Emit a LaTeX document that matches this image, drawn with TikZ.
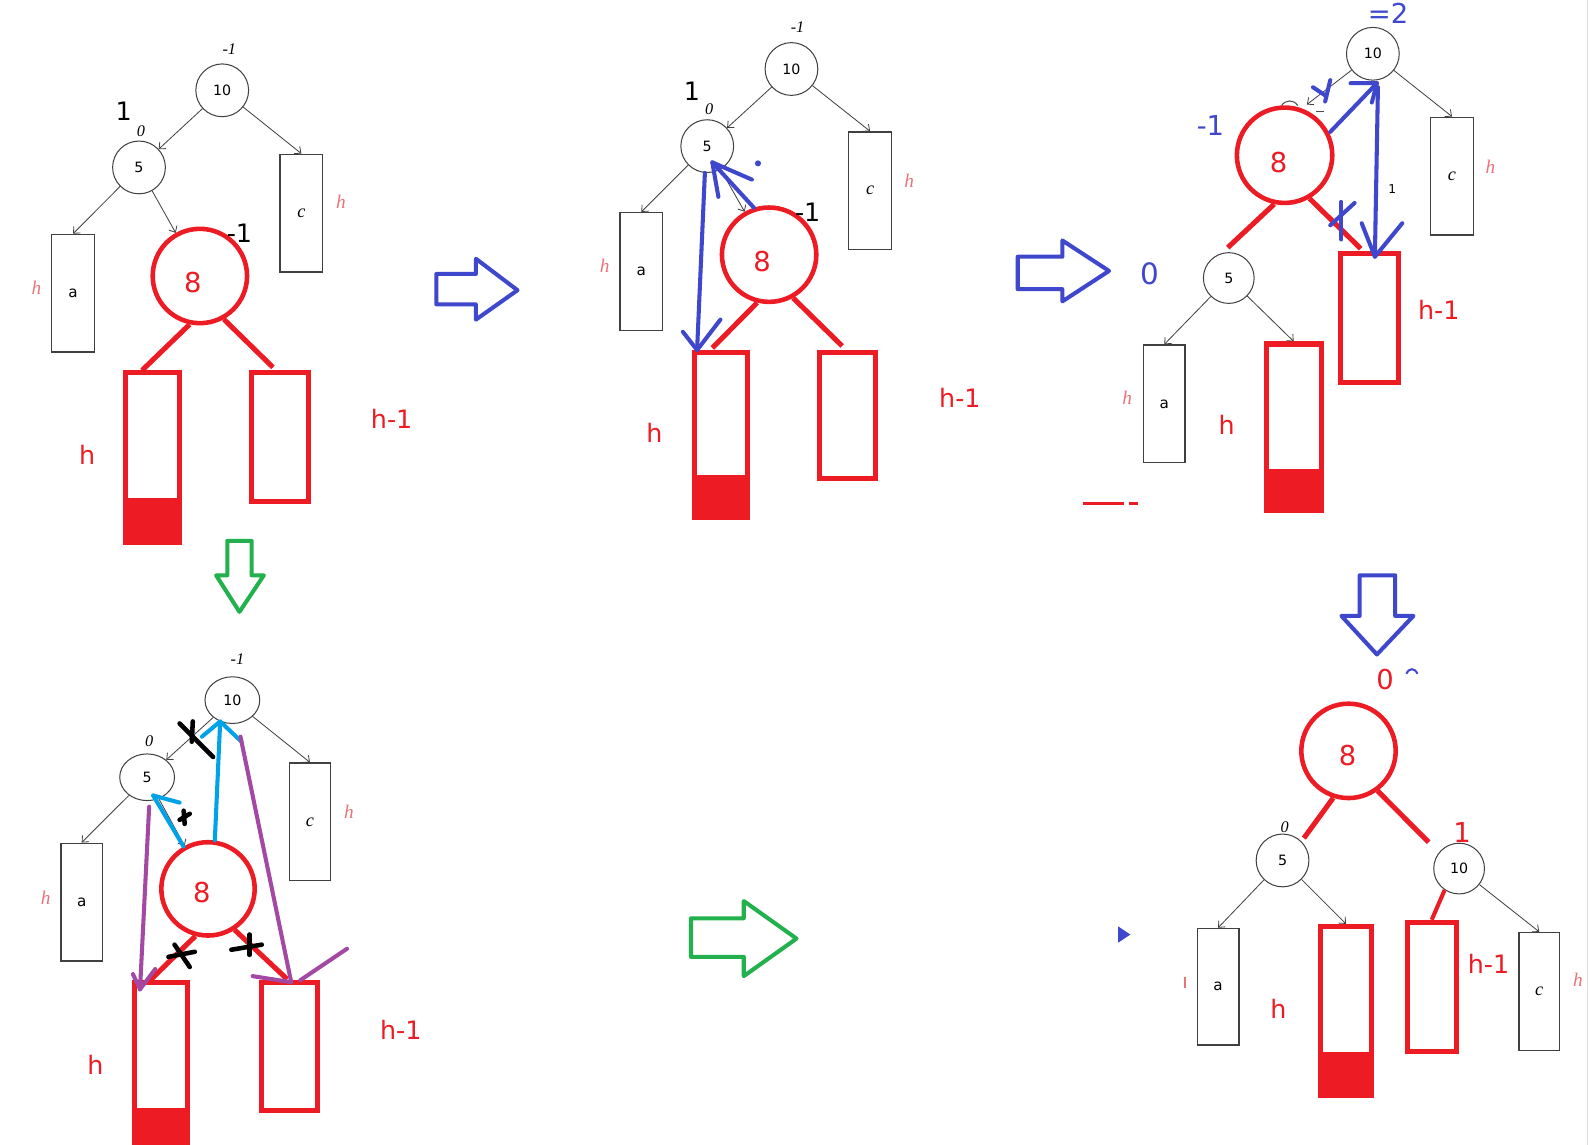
\documentclass[tikz,border=0pt]{standalone}
\usepackage{fontspec}
\setmainfont{DejaVu Sans}
\newfontfamily\serifit{Liberation Serif}
\usetikzlibrary{arrows.meta,shapes.geometric}
\definecolor{pred}{HTML}{ED1C24}
\definecolor{pblue}{HTML}{3F48CC}
\definecolor{pgreen}{HTML}{22B14C}
\definecolor{pcyan}{HTML}{00A2E8}
\definecolor{ppurple}{HTML}{A349A4}
\definecolor{ppink}{HTML}{E8747A}
\newcommand{\fsz}[1]{\fontsize{#1}{#1}\selectfont}
\begin{document}
\begin{tikzpicture}[x=1pt,y=-1pt,
 tnode/.style={circle,draw=black!75,line width=1pt,minimum size=52pt,inner sep=0pt,font=\fsz{14}},
 tell/.style={ellipse,draw=black!75,line width=1pt,minimum width=54pt,minimum height=46pt,inner sep=0pt,font=\fsz{14}},
 rnode/.style={circle,draw=pred,line width=4.5pt,minimum size=93pt,inner sep=0pt},
 eight/.style={text=pred,font=\fsz{27},inner sep=0pt},
 tbox/.style={rectangle,draw=black!75,line width=1.3pt,minimum width=42pt,minimum height=116pt,inner sep=0pt,font=\fsz{15}},
 rbox/.style={rectangle,draw=pred,line width=5pt,inner sep=0pt},
 tedge/.style={draw=black!75,line width=0.8pt,-{Straight Barb[length=5pt,width=9pt]}},
 redline/.style={draw=pred,line width=5pt},
 bstroke/.style={draw=pblue,line width=4pt,line cap=round,line join=round},
 cstroke/.style={draw=pcyan,line width=4pt,line cap=round,line join=round},
 pstroke/.style={draw=ppurple,line width=4pt,line cap=round,line join=round},
 xstroke/.style={draw=black,line width=4.5pt,line cap=round},
 hollow/.style={line width=4pt,line join=round,fill=white},
 bal/.style={font=\serifit\itshape\fsz{16}},
 hpink/.style={text=ppink,font=\serifit\itshape\fsz{19}},
 rlab/.style={text=pred,font=\fsz{25}},
 blab/.style={text=pblue,font=\fsz{27}},
 big/.style={font=\fsz{25}},
]
\useasboundingbox (0,0) rectangle (1568,1128);
\fill[white] (0,0) rectangle (1568,1128);
\draw[black!15,line width=1pt] (1565,0) -- (1565,1128);

% ================= Panel A (top left) =================
\node[tnode] (A10) at (219,89) {10};
\node[tnode] (A5) at (137,165) {5};
\node[tbox] (Ac) at (297,210) {\serifit\itshape\fsz{18}c};
\node[tbox] (Aa) at (72,289) {a};
\node[rbox,minimum width=53pt,minimum height=168pt] (AL) at (150.5,451) {};
\fill[pred] (121.5,491) rectangle (179.5,537.5);
\node[rbox,minimum width=56pt,minimum height=127pt] (AR) at (276,430.5) {};
\node[rnode] (A8) at (197,272) {};
\node[eight] (A8t) at (190,278) {8};
\draw[tedge] (A10) -- (A5);
\draw[tedge] (A10) -- (Ac.north);
\draw[tedge] (A5) -- (Aa.north);
\draw[tedge] (A5) -- (A8);
\coordinate (A8l) at (140,365);
\coordinate (A8r) at (269,362);
\draw[redline] (A8.258) -- (A8l);
\draw[redline] (A8.299) -- (A8r);
\node[bal] (Ab10) at (226,48) {-1};
\node[big] (Ab1) at (122,110) {1};
\node[bal] (Ab5) at (139,129) {0};
\node[hpink] (Ahc) at (336,199) {h};
\node[hpink] (Aha) at (36,284) {h};
\node[big] (Ab8) at (236,230) {-1};
\node[rlab] (Ahr) at (386,413) {h-1};
\node[rlab] (Ahl) at (86,448) {h};
% hollow arrow 1
\draw[pblue,hollow] (430,270) -- (469,270) -- (469,255) -- (510,286) -- (469,315) -- (469,300) -- (430,300) -- cycle;

% ================= Panel B (top middle) =================
\node[tnode] (B10) at (780,68) {10};
\node[tnode] (B5) at (697,144) {5};
\node[tbox] (Bc) at (857.5,188) {\serifit\itshape\fsz{18}c};
\node[tbox] (Ba) at (632,267.5) {a};
\node[rbox,minimum width=53pt,minimum height=163pt] (BL) at (710.5,428.5) {};
\fill[pred] (681.5,468) rectangle (739.5,512.5);
\node[rbox,minimum width=55pt,minimum height=125pt] (BR) at (835.5,409.5) {};
\node[rnode] (B8) at (758,251) {};
\node[eight] (B8t) at (751,258) {8};
\draw[tedge] (B10) -- (B5);
\draw[tedge] (B10) -- (Bc.north);
\draw[tedge] (B5) -- (Ba.north);
\draw[tedge] (B5) -- (B8);
\coordinate (B8l) at (702,343);
\coordinate (B8r) at (830,341);
\draw[redline] (B8.256) -- (B8l);
\draw[redline] (B8.299) -- (B8r);
\node[bal] (Bb10) at (786,27) {-1};
\node[big] (Bb1) at (682,90) {1};
\node[bal] (Bb5) at (699,108) {0};
\node[hpink] (Bhc) at (896,178) {h};
\node[hpink] (Bha) at (596,262) {h};
\node[big] (Bb8) at (796,209) {-1};
\node[rlab] (Bhr) at (946,392) {h-1};
\node[rlab] (Bhl) at (645,427) {h};
% blue rotation marks
\coordinate (Bt1) at (702,160);
\coordinate (Bt2) at (687,345);
\draw[bstroke] (B8.108) -- (Bt1);
\draw[bstroke] (708,194) -- (Bt1) -- (741,177);
\fill[pblue] (747,161) circle (3);
\draw[bstroke] (B5.265) -- (Bt2);
\draw[bstroke] (673,327) -- (Bt2) -- (710,315);

% ================= Panel C (top right) =================
\node[tnode] (C10) at (1353,53) {10};
\node[tbox] (Cc) at (1431,173.5) {\serifit\itshape\fsz{18}c};
\node[tnode,minimum size=50pt] (C5) at (1211,274) {5};
\node[tbox,minimum width=41pt] (Ca) at (1147.5,398) {a};
\node[rbox,minimum width=54pt,minimum height=164pt] (CL) at (1275,421) {};
\fill[pred] (1245.5,462) rectangle (1304.5,505.5);
\node[rbox,minimum width=57pt,minimum height=127pt] (CR) at (1349.5,313.5) {};
\node[rnode,minimum size=94pt] (C8) at (1266,153) {};
\node[eight] (C8x) at (1260,160) {8};
\draw[tedge] (C10) -- (Cc.north);
\coordinate (C8t) at (1288,103);
\draw[tedge] (C10) -- (C8t);
\draw[tedge] (C5) -- (Ca.north);
\draw[tedge] (C5) -- (CL.north);
\coordinate (C8l) at (1210,244);
\coordinate (C8r) at (1341,245);
\draw[redline] (C8.258) -- (C8l);
\draw[redline] (C8.300) -- (C8r);
\draw[black!70,line width=1pt] (1263,104) .. controls (1267,98) and (1275,98) .. (1279,104);
\draw[black!70,line width=1.2pt] (1297,110) -- (1305,110);
\node[blab] (Cb10) at (1368,13) {=2};
\node[blab] (Cb8) at (1193,124) {-1};
\node[blab,font=\fsz{29}] (Cb5) at (1133,270) {0};
\node[hpink] (Chc) at (1469,164) {h};
\node[hpink] (Cha) at (1111,392) {h};
\node[rlab] (Chl) at (1209,419) {h};
\node[rlab] (Chr) at (1418,305) {h-1};
\node[font=\fsz{12}] (Cone) at (1372,186) {1};
% blue marks
\coordinate (Ct1) at (1357,82);
\draw[bstroke] (1311,130) -- (Ct1);
\draw[bstroke] (1331,82) -- (Ct1) -- (1352,101);
\draw[bstroke] (1294,86) -- (1306,94);
\draw[bstroke] (1311,79) -- (1306,100);
\coordinate (Ct2) at (1355,253);
\draw[bstroke] (1358,86) -- (Ct2);
\draw[bstroke] (1342,220) -- (Ct2) -- (1382,220);
\draw[bstroke] (1322,199) -- (1322,236);
\draw[bstroke] (1311,222) -- (1335,200);
% hollow arrow 2
\draw[pblue,hollow] (1003,253) -- (1047,253) -- (1047,237) -- (1093,267) -- (1047,297) -- (1047,285) -- (1003,285) -- cycle;
\draw[pred,line width=3pt] (1067,496) -- (1108,496);
\draw[pred,line width=3pt] (1113,496) -- (1122,496);
% hollow arrow down
\draw[pblue,hollow] (1340,567) -- (1375,567) -- (1375,607) -- (1393,607) -- (1357,645) -- (1322,607) -- (1340,607) -- cycle;
\draw[pblue,line width=2pt] (1386,664) .. controls (1389,658) and (1394,658) .. (1397,664);

% ================= Panel D (bottom right) =================
\node[tnode] (D5) at (1264,848) {5};
\node[tnode,minimum size=50pt] (D10) at (1438,856) {10};
\node[tbox,minimum width=41pt,minimum height=115pt] (Da) at (1200.5,972.5) {a};
\node[rbox,minimum width=51pt,minimum height=167pt] (DL) at (1326.5,996.5) {};
\fill[pred] (1298.5,1037) rectangle (1354.5,1082.5);
\node[rbox,minimum width=48pt,minimum height=127pt] (DR) at (1411,972.5) {};
\node[tbox,minimum width=40pt] (Dc) at (1517,977) {\serifit\itshape\fsz{18}c};
\node[rnode] (D8) at (1329,740) {};
\node[eight] (D8t) at (1328,745) {8};
\draw[tedge] (D5) -- (Da.north);
\draw[tedge] (D5) -- (DL.north);
\draw[tedge] (D10) -- (Dc.north);
\coordinate (D8l) at (1285,826);
\coordinate (D8r) at (1408,830);
\draw[redline] (D8.252) -- (D8l);
\draw[redline] (D8.306) -- (D8r);
\draw[draw=pred,line width=4pt] (D10.236) -- (DR.north);
\node[rlab,font=\fsz{27}] (Db8) at (1365,670) {0};
\node[bal] (Db5) at (1266,815) {0};
\node[rlab,font=\fsz{27}] (Db10) at (1441,820) {1};
\node[rlab] (Dhl) at (1260,994) {h};
\node[rlab] (Dhr) at (1467,950) {h-1};
\node[hpink] (Dhc) at (1555,966) {h};
\fill[ppink] (1166.5,963) rectangle (1169,974);
\fill[pblue] (1102,913) -- (1114,921) -- (1102,929) -- cycle;

% ================= Panel E (bottom left) =================
\draw[pgreen,hollow] (224,533) -- (248,533) -- (248,567) -- (260,567) -- (236,603) -- (213,567) -- (224,567) -- cycle;
\node[tell] (E10) at (229,690) {10};
\node[tell] (E5) at (145,766) {5};
\node[tbox,minimum width=41pt] (Ec) at (305.5,810) {\serifit\itshape\fsz{18}c};
\node[tbox,minimum width=41pt] (Ea) at (80.5,889) {a};
\node[rbox,minimum width=52pt,minimum height=172pt] (EL) at (159,1054) {};
\fill[pred] (130.5,1092) rectangle (187.5,1142);
\node[rbox,minimum width=55pt,minimum height=126pt] (ER) at (285.5,1031) {};
\node[rnode,minimum size=92pt] (E8) at (205,876) {};
\node[eight] (E8t) at (199,880) {8};
\draw[tedge] (E10) -- (E5);
\draw[tedge] (E10) -- (Ec.north);
\draw[tedge] (E5) -- (Ea.north);
\draw[tedge] (E5) -- (E8);
\coordinate (E8l) at (148,966);
\coordinate (E8r) at (283,965);
\draw[redline] (E8.255) -- (E8l);
\draw[redline] (E8.303) -- (E8r);
\node[bal] (Eb10) at (234,650) {-1};
\node[bal] (Eb5) at (147,730) {0};
\node[hpink] (Ehc) at (344,800) {h};
\node[hpink] (Eha) at (45,885) {h};
\node[rlab] (Ehr) at (395,1015) {h-1};
\node[rlab] (Ehl) at (94,1049) {h};
% cyan arrows
\coordinate (Et1) at (151,784);
\draw[cstroke] (E8.120) -- (Et1);
\draw[cstroke] (177,791) -- (Et1);
\coordinate (Et2) at (217,711);
\draw[cstroke] (E8.82) -- (Et2);
\draw[cstroke] (199,726) -- (Et2) -- (238,731);
% purple arrows
\coordinate (Et3) at (138,975);
\draw[pstroke] (147,795) -- (Et3);
\draw[pstroke] (131,960) -- (Et3) -- (153,955);
\coordinate (Et4) at (287,968);
\draw[pstroke] (237,726) -- (Et4);
\draw[pstroke] (249,962) -- (Et4);
\draw[pstroke] (296,966) -- (342,935);
% black cross marks
\draw[xstroke] (177,713) -- (210,746);
\draw[xstroke] (190,711) -- (189,731);
\draw[xstroke] (177,808) -- (187,802);
\draw[xstroke] (181,799) -- (182,812);
\draw[xstroke] (166,943) -- (192,938);
\draw[xstroke] (172,931) -- (187,953);
\draw[xstroke] (228,936) -- (258,931);
\draw[xstroke] (246,921) -- (246,941);
% green hollow arrow
\draw[pgreen,hollow] (681,905) -- (733,905) -- (733,888) -- (785,925) -- (733,962) -- (733,943) -- (681,943) -- cycle;
\end{tikzpicture}
\end{document}
